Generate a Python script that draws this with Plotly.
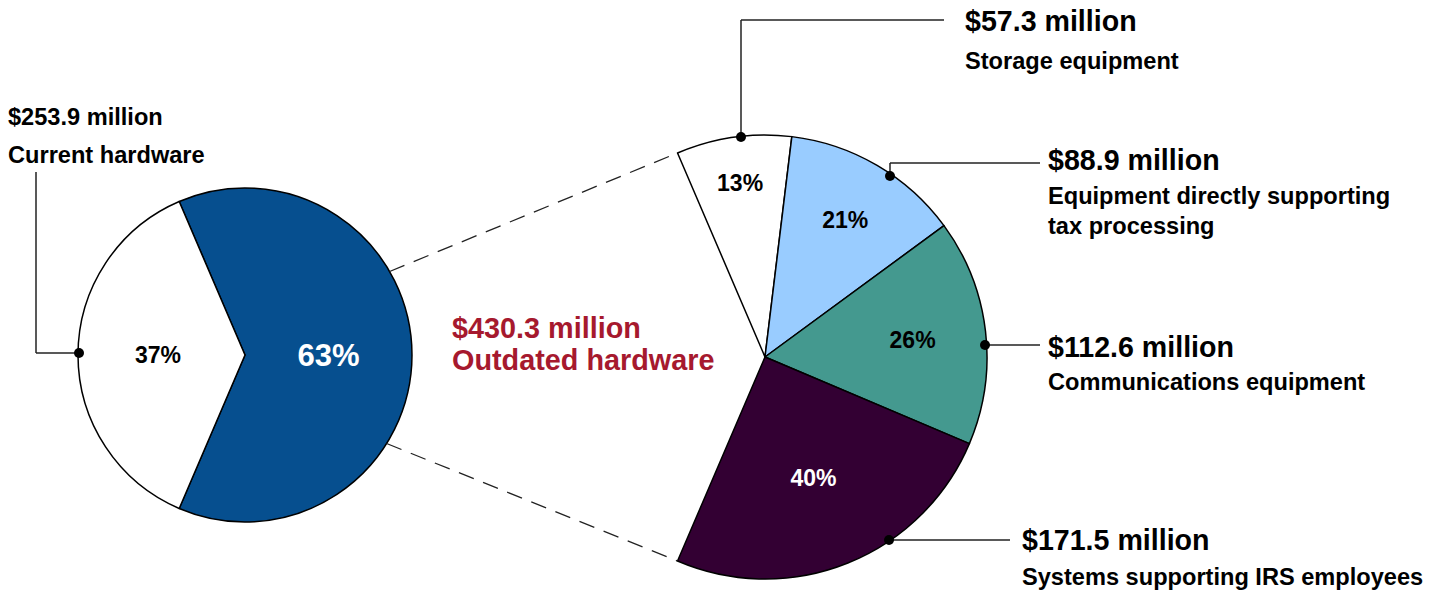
import math
import plotly.graph_objects as go

# ---- data ----
overview_labels = ["Outdated hardware", "Current hardware"]
overview_values = [430.3, 253.9]
overview_colors = ["#064f8f", "#ffffff"]

detail_labels = ["Storage equipment", "Equipment directly supporting tax processing",
                 "Communications equipment", "Systems supporting IRS employees"]
detail_values = [57.3, 88.9, 112.6, 171.5]
detail_colors = ["#ffffff", "#99ccff", "#44998f", "#330033"]
detail_text_colors = ["#000000", "#000000", "#000000", "#ffffff"]

W, H = 1442, 590

def px(x):
    return x / W

def py(y):
    return 1 - y / H

total = sum(overview_values)
outdated = overview_values[0]
rotation = 90 - 180 * outdated / total  # centre the outdated wedge on 3 o'clock

# geometry (pixels)
L_CX, L_CY, L_R = 245, 355, 167
R_CX, R_CY, R_R = 765, 357, 222

ov_text = [f"{round(v / total * 100)}%" for v in overview_values]
sub_total = sum(detail_values)
dt_text = [f"{round(v / sub_total * 100)}%" for v in detail_values]

fig = go.Figure()

fig.add_trace(go.Pie(
    labels=overview_labels, values=overview_values, sort=False,
    direction="clockwise", rotation=rotation,
    marker=dict(colors=overview_colors, line=dict(color="#000000", width=1.5)),
    text=ov_text, textinfo="text", textposition="inside",
    insidetextorientation="horizontal",
    textfont=dict(family="Liberation Sans, Arial", size=[31, 23],
                  color=["#ffffff", "#000000"], weight="bold"),
    domain=dict(x=[px(L_CX - L_R), px(L_CX + L_R)], y=[py(L_CY + L_R), py(L_CY - L_R)]),
    showlegend=False, hoverinfo="label+value",
))

fig.add_trace(go.Pie(
    labels=detail_labels + ["Current hardware"],
    values=detail_values + [overview_values[1]], sort=False,
    direction="clockwise", rotation=rotation,
    marker=dict(colors=detail_colors + ["rgba(0,0,0,0)"],
                line=dict(color=["#000000"] * 4 + ["rgba(0,0,0,0)"], width=1.5)),
    text=dt_text + [""], textinfo="text", textposition="inside",
    insidetextorientation="horizontal",
    textfont=dict(family="Liberation Sans, Arial", size=23,
                  color=detail_text_colors + ["#000000"], weight="bold"),
    domain=dict(x=[px(R_CX - R_R), px(R_CX + R_R)], y=[py(R_CY + R_R), py(R_CY - R_R)]),
    showlegend=False, hoverinfo="label+value",
))

shapes = []

def line(x0, y0, x1, y1, dash="solid", color="#222222", width=1.5):
    shapes.append(dict(type="line", xref="paper", yref="paper",
                       x0=px(x0), y0=py(y0), x1=px(x1), y1=py(y1),
                       line=dict(color=color, width=width, dash=dash)))

def dot(x, y, r=5):
    shapes.append(dict(type="circle", xref="paper", yref="paper",
                       x0=px(x - r), y0=py(y + r), x1=px(x + r), y1=py(y - r),
                       fillcolor="#000000", line=dict(color="#000000", width=0)))

# dashed connectors from overview wedge to detail pie edges
half = 180 * outdated / total
a_top = math.radians(90 - half)
a_bot = math.radians(90 + half)
for la, ra in [(60, a_top), (122, a_bot)]:
    lx = L_CX + L_R * math.sin(math.radians(la))
    ly = L_CY - L_R * math.cos(math.radians(la))
    rx = R_CX + R_R * math.sin(ra)
    ry = R_CY - R_R * math.cos(ra)
    line(lx, ly, rx, ry, dash="16px,10px", color="#222222", width=1.3)

# leader lines
line(79, 353, 36, 353); line(36, 353, 36, 172); dot(79, 353)
line(741, 137, 741, 20); line(741, 20, 944, 20); dot(741, 137)
line(890, 176, 890, 163); line(890, 163, 1040, 163); dot(890, 176)
line(985, 345, 1040, 345); dot(985, 345)
line(889, 540, 1010, 540); dot(889, 540)

annotations = []

def label(x, y, text, size, color="#000000"):
    annotations.append(dict(x=px(x), y=py(y), xref="paper", yref="paper",
                            text=f"<b>{text}</b>", showarrow=False,
                            xanchor="left", yanchor="middle",
                            font=dict(family="Liberation Sans, Arial", size=size, color=color)))

label(6, 117, "$253.9 million", 23.6)
label(6, 155, "Current hardware", 23.6)

label(963, 21, "$57.3 million", 28.6)
label(963, 61, "Storage equipment", 23.6)

label(1046, 160, "$88.9 million", 28.6)
label(1046, 196, "Equipment directly supporting", 23.6)
label(1046, 226, "tax processing", 23.6)

label(1046, 347, "$112.6 million", 28.6)
label(1046, 382, "Communications equipment", 23.6)

label(1020, 540, "$171.5 million", 28.6)
label(1020, 577, "Systems supporting IRS employees", 23.6)

label(450, 328, "$430.3 million", 28.8, "#a6192e")
label(450, 360, "Outdated hardware", 28.8, "#a6192e")

fig.update_layout(
    width=W, height=H,
    margin=dict(l=0, r=0, t=0, b=0),
    paper_bgcolor="#ffffff", plot_bgcolor="#ffffff",
    shapes=shapes, annotations=annotations,
    font=dict(family="Liberation Sans, Arial"),
)

fig.write_html("out.html",
               config={"displayModeBar": False},
               post_script="document.body.style.margin='0';document.body.style.overflow='hidden';")
